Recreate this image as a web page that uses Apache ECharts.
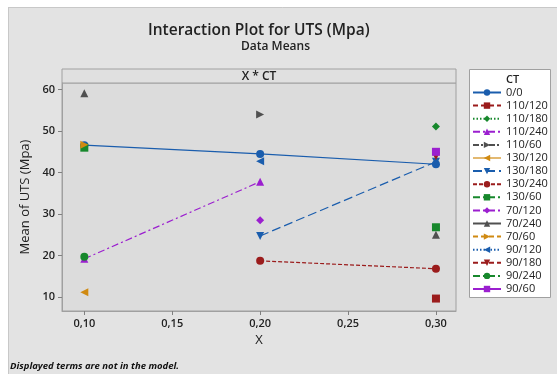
<!DOCTYPE html>
<html>
<head>
<meta charset="utf-8">
<script src="https://cdn.jsdelivr.net/npm/echarts@6/dist/echarts.min.js"></script>
<style>
  html, body { margin: 0; padding: 0; background: #ffffff; }
  #chart { width: 557px; height: 374px; }
</style>
</head>
<body>
<div id="chart"></div>
<script>
// X levels and mean UTS for each CT group ('-' = no observation at that level)
const xLevels = [0.10, 0.20, 0.30];
const ctGroups = ['0/0', '110/120', '110/180', '110/240', '110/60', '130/120', '130/180', '130/240',
                  '130/60', '70/120', '70/240', '70/60', '90/120', '90/180', '90/240', '90/60'];
const uts_0_0     = [46.6, 44.5, 42.0];
const uts_110_120 = ['-', '-', 9.6];
const uts_110_180 = ['-', '-', 51.1];
const uts_110_240 = [19.2, 37.8, '-'];
const uts_110_60  = ['-', 54.0, '-'];
const uts_130_120 = [11.1, '-', '-'];
const uts_130_180 = ['-', 24.7, 42.6];
const uts_130_240 = ['-', 18.7, 16.8];
const uts_130_60  = [46.0, '-', 26.8];
const uts_70_120  = ['-', 28.5, '-'];
const uts_70_240  = [59.1, '-', 25.0];
const uts_70_60   = [46.7, '-', '-'];
const uts_90_120  = ['-', 42.7, '-'];
const uts_90_180  = ['-', '-', 43.9];
const uts_90_240  = [19.7, '-', '-'];
const uts_90_60   = ['-', '-', 45.0];
const xTicks = [0.10, 0.15, 0.20, 0.25, 0.30];
const yTicks = [10, 20, 30, 40, 50, 60];

const groupValues = [uts_0_0, uts_110_120, uts_110_180, uts_110_240, uts_110_60, uts_130_120,
  uts_130_180, uts_130_240, uts_130_60, uts_70_120, uts_70_240, uts_70_60, uts_90_120,
  uts_90_180, uts_90_240, uts_90_60];

const BLUE = '#1a5dad', RED = '#9b1c1c', GREEN = '#17882c', PURPLE = '#9b1fcf',
      GRAY = '#505050', ORANGE = '#d08a12';
const TRI_UP = 'triangle';
const TRI_RIGHT = 'path://M0,0 L10,5 L0,10 Z';
const TRI_LEFT = 'path://M10,0 L0,5 L10,10 Z';
const TRI_DOWN = 'path://M0,0 L10,0 L5,10 Z';
const SOLID = 'solid', DASH = [5, 3], DOT = [1.5, 2], SHORTDASH = [4, 2], DASHDOT = [7, 3, 2, 3],
      DASHDOTDOT = [6, 2, 2, 2, 2, 2], LONGDASH = [9, 4];

const styles = [
  { c: BLUE,   s: 'circle',  l: SOLID },
  { c: RED,    s: 'rect',    l: DASH },
  { c: GREEN,  s: 'diamond', l: DOT },
  { c: PURPLE, s: TRI_UP,    l: DASHDOT },
  { c: GRAY,   s: TRI_RIGHT, l: DASHDOTDOT },
  { c: ORANGE, s: TRI_LEFT,  l: SOLID, w: 2.5, o: 0.6 },
  { c: BLUE,   s: TRI_DOWN,  l: LONGDASH },
  { c: RED,    s: 'circle',  l: SHORTDASH },
  { c: GREEN,  s: 'rect',    l: DASHDOT },
  { c: PURPLE, s: 'diamond', l: DASHDOT },
  { c: GRAY,   s: TRI_UP,    l: SOLID },
  { c: ORANGE, s: TRI_RIGHT, l: DASH },
  { c: BLUE,   s: TRI_LEFT,  l: DOT },
  { c: RED,    s: TRI_DOWN,  l: DASH },
  { c: GREEN,  s: 'circle',  l: DASHDOT },
  { c: PURPLE, s: 'rect',    l: SOLID }
];

const series = ctGroups.map((name, i) => {
  const st = styles[i];
  return {
    name: name,
    type: 'line',
    data: xLevels.map((x, k) => [x, groupValues[i][k]]),
    symbol: st.s,
    symbolSize: 8,
    showAllSymbol: true,
    connectNulls: false,
    color: st.c,
    itemStyle: { color: st.c, opacity: 1 },
    lineStyle: { color: st.c, type: st.l, width: st.w || 1.2, opacity: st.o || 1 },
    emphasis: { disabled: true },
    animation: false
  };
});

const fmtComma = v => v.toFixed(2).replace('.', ',');
const FONT = 'Open Sans';

const chart = echarts.init(document.getElementById('chart'), null, { renderer: 'canvas' });
chart.setOption({
  backgroundColor: '#e3e3e3',
  textStyle: { fontFamily: FONT },
  animation: false,
  grid: {
    left: 62, top: 83, width: 394, height: 228,
    show: true, backgroundColor: '#dcdcdc', borderColor: '#a0a0a0', borderWidth: 1
  },
  xAxis: {
    type: 'value', min: 0.0873, max: 0.3114,
    name: 'X', nameLocation: 'middle', nameGap: 22,
    nameTextStyle: { fontSize: 13, color: '#222', fontFamily: FONT },
    splitLine: { show: false },
    axisLine: { show: true, lineStyle: { color: '#a0a0a0' } },
    axisTick: { show: true, customValues: xTicks, length: 4, lineStyle: { color: '#808080' } },
    axisLabel: { customValues: xTicks, formatter: fmtComma, fontSize: 11, color: '#222', fontWeight: 600, margin: 7 }
  },
  yAxis: {
    type: 'value', min: 6.6, max: 61.6,
    name: 'Mean of UTS (Mpa)', nameLocation: 'middle', nameGap: 26, nameRotate: 90,
    nameTextStyle: { fontSize: 13, color: '#222', fontFamily: FONT },
    splitLine: { show: false },
    axisLine: { show: true, lineStyle: { color: '#a0a0a0' } },
    axisTick: { show: true, customValues: yTicks, length: 4, lineStyle: { color: '#808080' } },
    axisLabel: { customValues: yTicks, fontSize: 11, color: '#222', fontWeight: 600, margin: 7 }
  },
  legend: {
    orient: 'vertical', left: 472, top: 86.5,
    itemWidth: 28, itemHeight: 8, itemGap: 1.1, padding: 0,
    textStyle: { fontSize: 11, lineHeight: 12, color: '#222', fontFamily: FONT },
    data: ctGroups,
    selectedMode: false
  },
  graphic: [
    // white margin around the panel
    { type: 'rect', shape: { x: 0, y: 0, width: 557, height: 7 }, style: { fill: '#ffffff' }, silent: true },
    { type: 'rect', shape: { x: 0, y: 0, width: 8, height: 374 }, style: { fill: '#ffffff' }, silent: true },
    { type: 'line', shape: { x1: 8, y1: 7.5, x2: 557, y2: 7.5 }, style: { stroke: '#c8c8c8', lineWidth: 1 }, silent: true },
    { type: 'line', shape: { x1: 8.5, y1: 7, x2: 8.5, y2: 374 }, style: { stroke: '#c8c8c8', lineWidth: 1 }, silent: true },
    // titles
    { type: 'text', left: 148, top: 23, style: { text: 'Interaction Plot for UTS (Mpa)', font: '600 15.5px "Open Sans"', fill: '#222' }, silent: true },
    { type: 'text', x: 275.5, y: 47, style: { text: 'Data Means', font: '600 12px "Open Sans"', fill: '#222', align: 'center', verticalAlign: 'middle' }, silent: true },
    // panel header strip
    { type: 'rect', shape: { x: 62, y: 69, width: 394, height: 14 }, style: { fill: '#e0e0e0', stroke: '#a0a0a0', lineWidth: 1 }, silent: true },
    { type: 'text', x: 259, y: 76.5, style: { text: 'X * CT', font: '600 12px "Open Sans"', fill: '#222', align: 'center', verticalAlign: 'middle' }, silent: true },
    // legend frame and title
    { type: 'rect', z: -1, shape: { x: 469.5, y: 69.5, width: 81, height: 228 }, style: { fill: '#ffffff', stroke: '#a0a0a0', lineWidth: 1 }, silent: true },
    { type: 'text', x: 506, y: 79.5, style: { text: 'CT', font: '600 11px "Open Sans"', fill: '#222', verticalAlign: 'middle' }, silent: true },
    // footnote
    { type: 'text', x: 10, y: 366, style: { text: 'Displayed terms are not in the model.', font: 'italic bold 9.5px "Open Sans"', fill: '#111', verticalAlign: 'middle' }, silent: true }
  ],
  series: series
});
</script>
</body>
</html>
